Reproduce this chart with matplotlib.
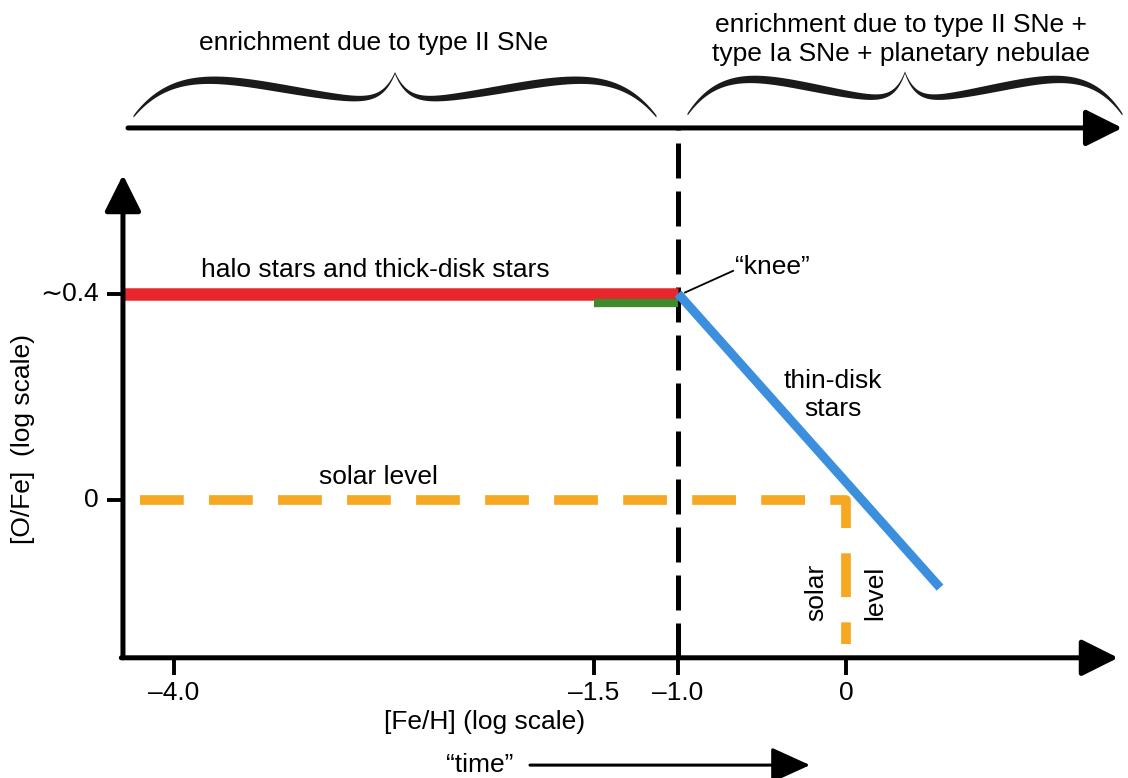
import numpy as np
import matplotlib.pyplot as plt

plt.rcParams['font.family'] = ['Liberation Sans', 'DejaVu Sans']

# ---- data ([Fe/H], [O/Fe]) ----
feh_ticks = [-4.0, -1.5, -1.0, 0.0]
feh_labels = ['\u20134.0', '\u20131.5', '\u20131.0', '0']
ofe_ticks = [0.4, 0.0]
ofe_labels = ['\u223c0.4', '0']

halo_feh = [-4.30, -1.0]
halo_ofe = [0.40, 0.40]
thick_feh = [-1.5, -1.0]
thick_ofe = [0.382, 0.382]
thin_feh = [-1.0, 0.56]
thin_ofe = [0.40, -0.17]
solar_feh = [-4.20, 0.0, 0.0]
solar_ofe = [0.0, 0.0, -0.28]
knee_feh = -1.0

# frame of the drawing (axes corner, arrow ends)
x_axis_y = -0.306
y_axis_x = -4.304
x_axis_end = 1.62
y_axis_end = 0.63
top_y = 0.721

FS = 19

fig = plt.figure(figsize=(11.28, 7.78), dpi=100)
ax = fig.add_axes([0, 0, 1, 1])
ax.set_xlim(-5.036, 1.679)
ax.set_ylim(-0.539, 0.969)
ax.axis('off')

arrow = dict(arrowstyle='-|>,head_length=0.9,head_width=0.45', lw=3.6,
             color='black', mutation_scale=25, shrinkA=0, shrinkB=0)

# axes
ax.annotate('', xy=(y_axis_x, y_axis_end), xytext=(y_axis_x, x_axis_y), arrowprops=arrow)
ax.annotate('', xy=(x_axis_end, x_axis_y), xytext=(y_axis_x - 0.01, x_axis_y), arrowprops=arrow)
ax.annotate('', xy=(1.645, top_y), xytext=(-4.274, top_y), arrowprops=arrow)

for x, lab in zip(feh_ticks, feh_labels):
    ax.plot([x, x], [x_axis_y, -0.339], color='black', lw=2.8, solid_capstyle='butt')
    ax.text(x, -0.374, lab, ha='center', va='center', fontsize=FS)
for y, lab in zip(ofe_ticks, ofe_labels):
    ax.plot([y_axis_x, -4.399], [y, y], color='black', lw=2.8, solid_capstyle='butt')
    ax.text(-4.45, y, lab, ha='right', va='center', fontsize=FS)

ax.text(-2.15, -0.430, '[Fe/H] (log scale)', ha='center', va='center', fontsize=FS)
ax.text(-4.90, 0.118, '[O/Fe]  (log scale)', ha='center', va='center',
        rotation=90, fontsize=FS)

# "time" arrow
ax.text(-2.18, -0.514, '\u201ctime\u201d', ha='center', va='center', fontsize=FS)
ax.annotate('', xy=(-0.214, -0.514), xytext=(-1.881, -0.514),
            arrowprops=dict(arrowstyle='-|>,head_length=1.1,head_width=0.5', lw=2.2,
                            color='black', mutation_scale=22, shrinkA=0, shrinkB=0))

# knee marker line
ax.plot([knee_feh, knee_feh], [x_axis_y, top_y], color='black', lw=3.6,
        dashes=(7, 2.6), solid_capstyle='butt')

# data lines
ax.plot(solar_feh, solar_ofe, color='#f7a823', lw=7, dashes=(4.5, 2.6),
        solid_joinstyle='miter')
ax.plot(halo_feh, halo_ofe, color='#e8262b', lw=9, solid_capstyle='butt')
ax.plot(thick_feh, thick_ofe, color='#3e8a2c', lw=6, solid_capstyle='butt')
ax.plot(thin_feh, thin_ofe, color='#3b8fdd', lw=6.5, solid_capstyle='butt')

# labels
ax.text(-2.80, 0.446, 'halo stars and thick-disk stars', ha='center', va='center', fontsize=FS)
ax.plot([-0.958, -0.672], [0.402, 0.444], color='black', lw=1.3)
ax.text(-0.66, 0.452, '\u201cknee\u201d', ha='left', va='center', fontsize=FS)
ax.text(-0.08, 0.203, 'thin-disk\nstars', ha='center', va='center', fontsize=FS,
        linespacing=1.2)
ax.text(-2.786, 0.045, 'solar level', ha='center', va='center', fontsize=FS)
ax.text(-0.175, -0.18, 'solar', ha='center', va='center', rotation=90, fontsize=FS)
ax.text(0.175, -0.18, 'level', ha='center', va='center', rotation=90, fontsize=FS)


# curly braces above the top arrow
def brace(ax, x0, x1, ybase, height):
    u = np.linspace(0, 1, 200)
    h = 0.8 * (u / 0.3) * np.exp(1 - u / 0.3) + 0.7 * np.exp(-(1 - u) / 0.05)
    w = 0.004 + 0.012 * np.sin(np.pi * u) ** 0.7
    mid = (x0 + x1) / 2
    yc = ybase + height * h
    for xs in (x0 + u * (mid - x0), x1 - u * (x1 - mid)):
        ax.fill_between(xs, yc - w / 2, yc + w / 2, color='#1a1a1a', lw=0)


brace(ax, -4.244, -1.131, 0.744, 0.088)
brace(ax, -0.946, 1.643, 0.748, 0.085)

ax.text(-2.815, 0.886, 'enrichment due to type II SNe', ha='center', va='center', fontsize=FS)
ax.text(0.33, 0.892, 'enrichment due to type II SNe +\ntype Ia SNe + planetary nebulae',
        ha='center', va='center', fontsize=FS, linespacing=1.25)

fig.savefig('out.png', dpi=100)
